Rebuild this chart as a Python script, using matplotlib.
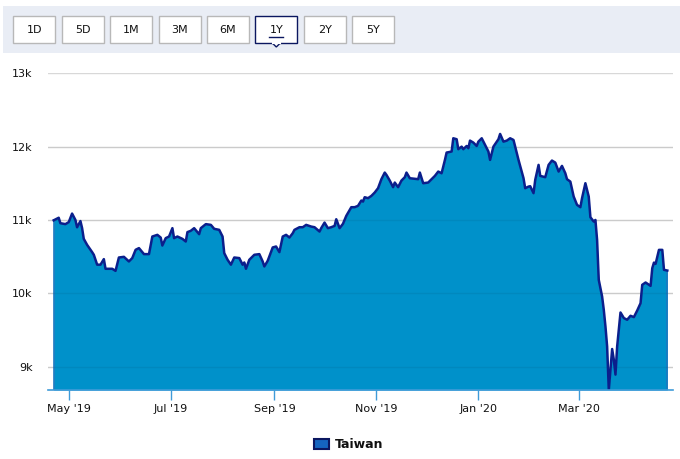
import matplotlib
matplotlib.use("Agg")
import matplotlib.pyplot as plt
import matplotlib.dates as mdates
from matplotlib.patches import Rectangle, Polygon
import pandas as pd

# Taiwan index, 1 year
dates = [
    "2019-04-22", "2019-04-25", "2019-04-26", "2019-04-29", "2019-05-01", "2019-05-03",
    "2019-05-05", "2019-05-06", "2019-05-08", "2019-05-09", "2019-05-10", "2019-05-12",
    "2019-05-15", "2019-05-16", "2019-05-17", "2019-05-18", "2019-05-20", "2019-05-22",
    "2019-05-23", "2019-05-27", "2019-05-29", "2019-05-31", "2019-06-03", "2019-06-06",
    "2019-06-08", "2019-06-10", "2019-06-12", "2019-06-15", "2019-06-18", "2019-06-20",
    "2019-06-23", "2019-06-25", "2019-06-26", "2019-06-28", "2019-06-30", "2019-07-02",
    "2019-07-03", "2019-07-05", "2019-07-08", "2019-07-10", "2019-07-11", "2019-07-13",
    "2019-07-15", "2019-07-18", "2019-07-19", "2019-07-22", "2019-07-25", "2019-07-27",
    "2019-07-30", "2019-08-01", "2019-08-02", "2019-08-04", "2019-08-06", "2019-08-08",
    "2019-08-11", "2019-08-13", "2019-08-14", "2019-08-15", "2019-08-17", "2019-08-20",
    "2019-08-23", "2019-08-25", "2019-08-26", "2019-08-28", "2019-08-31", "2019-09-02",
    "2019-09-04", "2019-09-06", "2019-09-08", "2019-09-10", "2019-09-12", "2019-09-13",
    "2019-09-16", "2019-09-18", "2019-09-20", "2019-09-23", "2019-09-25", "2019-09-28",
    "2019-09-29", "2019-10-01", "2019-10-03", "2019-10-05", "2019-10-07", "2019-10-08",
    "2019-10-10", "2019-10-12", "2019-10-14", "2019-10-17", "2019-10-19", "2019-10-21",
    "2019-10-23", "2019-10-24", "2019-10-25", "2019-10-27", "2019-10-29", "2019-10-31",
    "2019-11-02", "2019-11-04", "2019-11-06", "2019-11-07", "2019-11-09", "2019-11-11",
    "2019-11-12", "2019-11-14", "2019-11-16", "2019-11-18", "2019-11-19", "2019-11-21",
    "2019-11-26", "2019-11-27", "2019-11-29", "2019-12-02", "2019-12-06", "2019-12-08",
    "2019-12-10", "2019-12-12", "2019-12-13", "2019-12-16", "2019-12-17", "2019-12-19",
    "2019-12-20", "2019-12-22", "2019-12-23", "2019-12-25", "2019-12-26", "2019-12-27",
    "2019-12-29", "2019-12-31", "2020-01-01", "2020-01-03", "2020-01-05", "2020-01-07",
    "2020-01-08", "2020-01-10", "2020-01-12", "2020-01-13", "2020-01-14", "2020-01-16",
    "2020-01-18", "2020-01-20", "2020-01-22", "2020-01-23", "2020-01-25", "2020-01-28",
    "2020-01-29", "2020-01-31", "2020-02-01", "2020-02-03", "2020-02-04", "2020-02-06",
    "2020-02-07", "2020-02-10", "2020-02-12", "2020-02-14", "2020-02-16", "2020-02-18",
    "2020-02-20", "2020-02-22", "2020-02-23", "2020-02-25", "2020-02-27", "2020-02-29",
    "2020-03-02", "2020-03-03", "2020-03-05", "2020-03-07", "2020-03-08", "2020-03-10",
    "2020-03-11", "2020-03-12", "2020-03-13", "2020-03-15", "2020-03-16", "2020-03-17",
    "2020-03-18", "2020-03-19", "2020-03-21", "2020-03-22", "2020-03-23", "2020-03-24",
    "2020-03-26", "2020-03-28", "2020-03-30", "2020-04-01", "2020-04-03", "2020-04-05",
    "2020-04-07", "2020-04-08", "2020-04-10", "2020-04-13", "2020-04-14", "2020-04-15",
    "2020-04-16", "2020-04-18", "2020-04-20", "2020-04-21", "2020-04-23",
]
values = [
    10995, 11030, 10956, 10943, 10970, 11087,
    11000, 10900, 10985, 10888, 10742, 10660,
    10561, 10525, 10457, 10390, 10390, 10466,
    10334, 10334, 10306, 10488, 10497, 10434,
    10480, 10593, 10616, 10534, 10534, 10774,
    10797, 10760, 10651, 10752, 10774, 10888,
    10752, 10774, 10742, 10706, 10834, 10852,
    10888, 10806, 10888, 10943, 10933, 10879,
    10865, 10774, 10548, 10457, 10390, 10488,
    10480, 10390, 10420, 10334, 10457, 10525,
    10534, 10434, 10366, 10443, 10625, 10638,
    10561, 10774, 10797, 10760, 10820, 10865,
    10901, 10901, 10933, 10910, 10901, 10842,
    10888, 10964, 10888, 10901, 10919, 11010,
    10888, 10947, 11056, 11174, 11174, 11192,
    11265, 11251, 11310, 11297, 11328, 11374,
    11433, 11556, 11646, 11615, 11537, 11447,
    11510, 11447, 11537, 11583, 11646, 11569,
    11556, 11646, 11501, 11510, 11601, 11660,
    11637, 11819, 11919, 11933, 12114, 12101,
    11965, 12000, 11965, 12009, 11978, 12082,
    12055, 12009, 12068, 12114, 12023, 11933,
    11819, 12000, 12068, 12101, 12173, 12068,
    12082, 12114, 12091, 12000, 11819, 11569,
    11433, 11455, 11460, 11365, 11546, 11751,
    11601, 11583, 11751, 11810, 11782, 11660,
    11737, 11637, 11556, 11523, 11319, 11206,
    11174, 11297, 11501, 11319, 11037, 10978,
    11000, 10728, 10183, 9956, 9775, 9548,
    9275, 8681, 9240, 9095, 8891, 9275,
    9738, 9662, 9639, 9693, 9675, 9765,
    9865, 10115, 10147, 10101, 10342, 10418,
    10401, 10592, 10592, 10320, 10310,
]

y_ticks = [9000, 10000, 11000, 12000, 13000]
y_labels = ["9k", "10k", "11k", "12k", "13k"]
x_ticks = ["2019-05-01", "2019-07-01", "2019-09-01", "2019-11-01", "2020-01-01", "2020-03-01"]
x_labels = ["May '19", "Jul '19", "Sep '19", "Nov '19", "Jan '20", "Mar '20"]
buttons = ["1D", "5D", "1M", "3M", "6M", "1Y", "2Y", "5Y"]
selected = "1Y"
series_name = "Taiwan"

dates = pd.to_datetime(dates)
fill_col = "#0091CA"
line_col = "#0B1F8C"

fig = plt.figure(figsize=(6.8, 4.59), dpi=100)
fig.patch.set_facecolor("white")

# chart area
ax = fig.add_axes([48 / 680, 1 - 390 / 459, 625 / 680, (390 - 73.3) / 459])
ymin = min(values)
ax.set_ylim(ymin, 13000)
pad = pd.Timedelta(days=3.4)
ax.set_xlim(dates[0] - pad, dates[-1] + pad)

for yv in y_ticks:
    ax.axhline(yv, color="#d8d8d8", lw=1, zorder=1)
ax.fill_between(dates, values, ymin, color=fill_col, lw=0, zorder=2)
ax.plot([dates[0], dates[0]], [ymin, values[0]], color="#1b78c0", lw=1.2, zorder=2.5)
ax.plot([dates[-1], dates[-1]], [ymin, values[-1]], color="#1b78c0", lw=1.2, zorder=2.5)
for yv in y_ticks[:-1]:
    ax.axhline(yv, color=(0, 0, 0, 0.06), lw=1, zorder=2.6)
ax.plot(dates, values, color=line_col, lw=1.8, zorder=3, solid_joinstyle="round")

for s in ["top", "right", "left"]:
    ax.spines[s].set_visible(False)
ax.spines["bottom"].set_color("#3f9bd8")
ax.spines["bottom"].set_linewidth(1.2)
ax.spines["bottom"].set_zorder(4)

ax.set_yticks(y_ticks)
ax.set_yticklabels(y_labels)
ax.tick_params(axis="y", length=0, pad=11, labelsize=8)
ax.set_xticks(pd.to_datetime(x_ticks))
ax.set_xticklabels(x_labels)
ax.tick_params(axis="x", length=7, width=1, color="#3f9bd8", pad=3, labelsize=8)
for lab in ax.get_yticklabels() + ax.get_xticklabels():
    lab.set_color("#111111")

# overlay in pixel coordinates for toolbar and legend
ui = fig.add_axes([0, 0, 1, 1], zorder=5)
ui.set_xlim(0, 680)
ui.set_ylim(459, 0)
ui.axis("off")
ui.patch.set_alpha(0)

ui.add_patch(Rectangle((3, 6), 677, 47, facecolor="#e9edf5", edgecolor="none"))
for i, b in enumerate(buttons):
    x0 = 13.3 + i * 48.4
    sel = b == selected
    ui.add_patch(Rectangle((x0, 16), 42, 27, facecolor="white",
                           edgecolor="#0b1760" if sel else "#b8b8b8", lw=1))
    ui.text(x0 + 21, 30, b, ha="center", va="center", fontsize=8, color="#111111")
    if sel:
        ui.plot([x0 + 14, x0 + 28], [37, 37], color="#0b1760", lw=1)
        ui.add_patch(Polygon([[x0 + 17, 43], [x0 + 25, 43], [x0 + 21, 47]], closed=True,
                             facecolor="white", edgecolor="#0b1760", lw=1))
        ui.plot([x0 + 17.5, x0 + 24.5], [43, 43], color="white", lw=1.5)

# legend
ui.add_patch(Rectangle((314, 438.5), 15, 10.5, facecolor="#1565c0", edgecolor="#0b1760", lw=1.5))
ui.text(335, 444, series_name, ha="left", va="center", fontsize=9, fontweight="bold", color="#111111")

fig.savefig("out.png", dpi=100)
